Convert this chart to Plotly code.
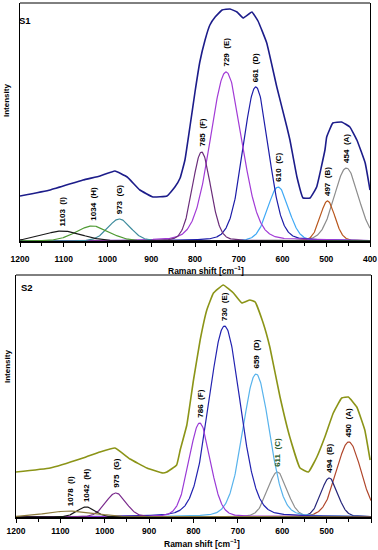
import numpy as np
import plotly.graph_objects as go

# ---------------- data ----------------
# S1 measured spectrum (Raman shift, intensity a.u.)
s1_env_w = [1200, 1131, 1056, 1017, 983, 955, 926, 896, 864, 846, 834, 823, 811, 800, 789,
            777, 766, 754, 738, 720, 704, 690, 670, 656, 636, 613, 590, 583, 567, 553,
            537, 522, 503, 499, 485, 465, 446, 430, 411, 400]
s1_env_h = [45, 51, 61, 65, 70, 64, 51, 44, 45, 54, 63, 81, 116, 149, 179,
            201, 216, 224, 231, 232, 229, 223, 229, 220, 198, 154, 114, 101, 64, 43,
            43, 54, 91, 104, 118, 119, 114, 101, 78, 51]

# S1 fitted bands
s1_letters = ["A", "B", "C", "D", "E", "F", "G", "H", "I"]
s1_centers = [454, 497, 610, 661, 729, 785, 973, 1034, 1103]
s1_heights = [73, 40, 54, 154, 169, 89, 22, 15, 10]
s1_sigmas = [28, 17, 24, 29, 36, 21, 26, 38, 45]

# S2 measured spectrum
s2_env_w = [1200, 1123, 1049, 1011, 977, 943, 905, 869, 860, 838, 830, 815, 800, 785, 770,
            755, 733, 710, 691, 673, 661, 643, 628, 605, 583, 560, 541, 522, 504, 485,
            466, 451, 432, 414, 402]
s2_env_h = [45, 49, 59, 65, 69, 58, 49, 44, 45, 52, 67, 92, 137, 177, 207,
            224, 232, 224, 214, 217, 215, 194, 170, 120, 80, 49, 45, 60, 80, 104,
            119, 120, 110, 87, 57]

# S2 fitted bands
s2_letters = ["A", "B", "C", "D", "E", "F", "G", "H", "I"]
s2_centers = [450, 494, 611, 659, 730, 786, 975, 1042, 1078]
s2_heights = [75, 39, 45, 143, 191, 94, 24, 10, 6]
s2_sigmas = [28, 19, 22, 30, 35, 24, 23, 20, 55]

x_ticks = [1200, 1100, 1000, 900, 800, 700, 600, 500, 400]

# ---------------- styles ----------------
s1_env_color = "#1c1c8a"
s2_env_color = "#8b9417"
s1_colors = ["#8c8c8c", "#b8561c", "#3fa9f5", "#1c1ca8", "#a23bd6", "#6b2d7a",
             "#3d8b9c", "#4f9a33", "#1a1a1a"]
s2_colors = ["#b0452a", "#25257a", "#8f8f8f", "#58b3ec", "#2222b0", "#9a3ad6",
             "#7a2b8c", "#1a1a1a", "#8c7a3c"]
s2_label_colors = ["black", "black", "#2a5a2a", "black", "black", "black",
                   "black", "black", "black"]

FONT = "Liberation Sans, Arial, sans-serif"
W, H = 378, 550

grid = np.linspace(400, 1200, 801)


def band(c, h, s, eta=0.15):
    g = np.exp(-((grid - c) ** 2) / (2 * s * s))
    gam = 1.1775 * s
    lor = 1.0 / (1.0 + ((grid - c) / gam) ** 2)
    return h * ((1 - eta) * g + eta * lor)


fig = go.Figure()

# panel geometry (pixels)
p1 = dict(x0=20, x1=370, y0=3, y1=241)
p2 = dict(x0=16, x1=371, y0=275, y1=517)


def dom_x(p):
    return [p["x0"] / W, p["x1"] / W]


def dom_y(p):
    return [(H - p["y1"]) / H, (H - p["y0"]) / H]


# S1 traces
for c, h, s, col in zip(s1_centers, s1_heights, s1_sigmas, s1_colors):
    fig.add_trace(go.Scatter(x=grid, y=band(c, h, s), mode="lines",
                             line=dict(color=col, width=1.2), xaxis="x", yaxis="y",
                             showlegend=False, hoverinfo="skip"))
fig.add_trace(go.Scatter(x=s1_env_w, y=s1_env_h, mode="lines",
                         line=dict(color=s1_env_color, width=1.6, shape="spline", smoothing=0.3),
                         xaxis="x", yaxis="y", showlegend=False))

# S2 traces
for c, h, s, col in zip(s2_centers, s2_heights, s2_sigmas, s2_colors):
    fig.add_trace(go.Scatter(x=grid, y=band(c, h, s), mode="lines",
                             line=dict(color=col, width=1.2), xaxis="x2", yaxis="y2",
                             showlegend=False, hoverinfo="skip"))
fig.add_trace(go.Scatter(x=s2_env_w, y=s2_env_h, mode="lines",
                         line=dict(color=s2_env_color, width=1.6, shape="spline", smoothing=0.3),
                         xaxis="x2", yaxis="y2", showlegend=False))

annotations = []
for c, h, L in zip(s1_centers, s1_heights, s1_letters):
    annotations.append(dict(x=c, y=h, xref="x", yref="y", text=f"{c}  ({L})",
                            textangle=-90, showarrow=False, yanchor="bottom",
                            xanchor="center", yshift=3,
                            font=dict(family=FONT, size=8, color="black", weight="bold")))
for c, h, L, lc in zip(s2_centers, s2_heights, s2_letters, s2_label_colors):
    annotations.append(dict(x=c, y=h, xref="x2", yref="y2", text=f"{c}  ({L})",
                            textangle=-90, showarrow=False, yanchor="bottom",
                            xanchor="center", yshift=3,
                            font=dict(family=FONT, size=8, color=lc, weight="bold")))

# panel names, axis titles
for txt, px, py in [("S1", 25, 20), ("S2", 27, 287)]:
    annotations.append(dict(x=px / W, y=1 - py / H, xref="paper", yref="paper", text=txt,
                            showarrow=False, xanchor="center", yanchor="middle",
                            font=dict(family=FONT, size=9.5, color="black", weight="bold")))
for py in [101, 367]:
    annotations.append(dict(x=7 / W, y=1 - py / H, xref="paper", yref="paper", text="Intensity",
                            textangle=-90, showarrow=False, xanchor="center", yanchor="middle",
                            font=dict(family=FONT, size=8, color="black", weight="bold")))
for px, py in [(206, 270), (202, 543)]:
    annotations.append(dict(x=px / W, y=1 - py / H, xref="paper", yref="paper",
                            text="Raman shift [cm<sup>−1</sup>]",
                            showarrow=False, xanchor="center", yanchor="middle",
                            font=dict(family=FONT, size=8.5, color="black", weight="bold")))


def xaxis_cfg(standoff):
    return dict(range=[1200, 400], tickmode="array", tickvals=x_ticks,
                ticktext=[str(t) for t in x_ticks], showgrid=False, zeroline=False,
                showline=True, linecolor="black", linewidth=2, ticks="outside",
                ticklen=4, tickwidth=1, tickcolor="black", automargin=False,
                ticklabelstandoff=standoff,
                minor=dict(dtick=50, tick0=400, ticks="outside", ticklen=3, tickcolor="black"),
                tickfont=dict(family=FONT, size=8.5, color="black", weight="bold"))


yaxis_common = dict(showgrid=False, zeroline=False, showticklabels=False, ticks="",
                    showline=True, linecolor="black", linewidth=1, mirror=True,
                    automargin=False)

shapes = []
for xr, yr in [("x domain", "y domain"), ("x2 domain", "y2 domain")]:
    shapes.append(dict(type="line", xref=xr, yref=yr, x0=0, x1=1, y0=1, y1=1,
                       line=dict(color="black", width=1)))

fig.update_layout(
    width=W, height=H, margin=dict(l=0, r=0, t=0, b=0, autoexpand=False),
    paper_bgcolor="white", plot_bgcolor="white",
    xaxis=dict(domain=dom_x(p1), anchor="y", **xaxis_cfg(5)),
    yaxis=dict(domain=dom_y(p1), anchor="x", range=[0, p1["y1"] - p1["y0"]], **yaxis_common),
    xaxis2=dict(domain=dom_x(p2), anchor="y2", **xaxis_cfg(1)),
    yaxis2=dict(domain=dom_y(p2), anchor="x2", range=[0, p2["y1"] - p2["y0"]], **yaxis_common),
    annotations=annotations, shapes=shapes,
)

fig.write_html("out.html", config={"displayModeBar": False},
               post_script="document.body.style.margin='0';document.body.style.overflow='hidden';")
